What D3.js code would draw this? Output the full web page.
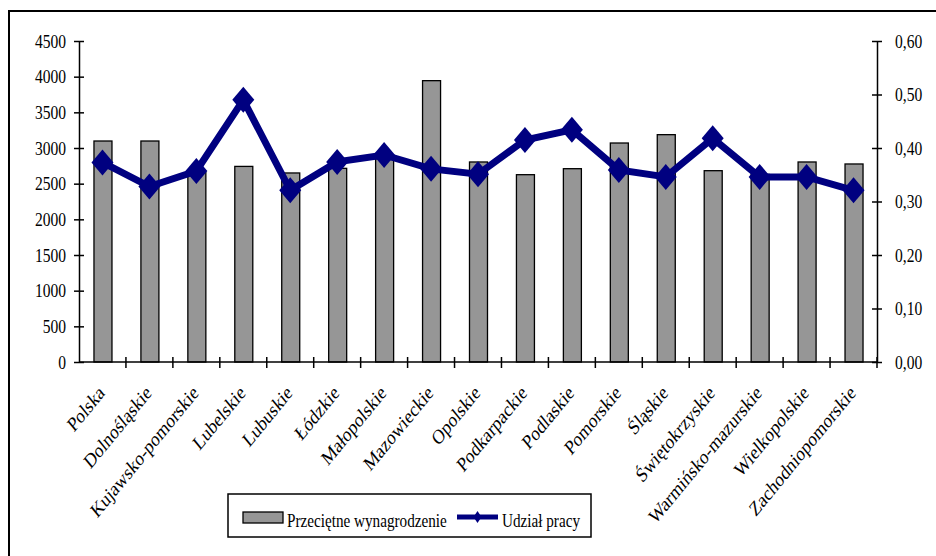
<!DOCTYPE html>
<html>
<head>
<meta charset="utf-8">
<script src="https://cdn.jsdelivr.net/npm/d3@7"></script>
<style>
  body { margin: 0; background: #fff; }
  text { font-family: "Liberation Serif", "Times New Roman", serif; fill: #000; }
</style>
</head>
<body>
<div id="chart"></div>
<script>
var categories = ["Polska", "Dolnośląskie", "Kujawsko-pomorskie", "Lubelskie", "Lubuskie",
    "Łódzkie", "Małopolskie", "Mazowieckie", "Opolskie", "Podkarpackie", "Podlaskie",
    "Pomorskie", "Śląskie", "Świętokrzyskie", "Warmińsko-mazurskie", "Wielkopolskie",
    "Zachodniopomorskie"];
var wages = [3098, 3098, 2660, 2742, 2650, 2715, 2850, 3944, 2804, 2626, 2710,
    3070, 3187, 2682, 2630, 2804, 2776];
var share = [0.373, 0.328, 0.357, 0.490, 0.321, 0.374, 0.387, 0.361, 0.351, 0.415, 0.434,
    0.359, 0.346, 0.418, 0.346, 0.346, 0.321];
var leftTicks = [0, 500, 1000, 1500, 2000, 2500, 3000, 3500, 4000, 4500];
var rightTicks = [0, 0.1, 0.2, 0.3, 0.4, 0.5, 0.6];
var seriesNames = ["Przeciętne wynagrodzenie", "Udział pracy"];

var W = 936, H = 556;
var margin = {top: 41, right: 59, bottom: 194, left: 79},
    width = W - margin.left - margin.right,
    height = H - margin.top - margin.bottom;

// the original is squeezed horizontally, so text is drawn narrow
var sx = 0.82;

var svg = d3.select("#chart").append("svg")
    .attr("width", W)
    .attr("height", H);

// outer frame (cut off on right/bottom like the original)
svg.append("rect")
    .attr("x", 9).attr("y", 11)
    .attr("width", 1000).attr("height", 600)
    .attr("fill", "none").attr("stroke", "#000").attr("stroke-width", 2);

var g = svg.append("g")
    .attr("transform", "translate(" + margin.left + "," + margin.top + ")");

var xc = d3.scaleBand().domain(categories).range([0, width]),
    y = d3.scaleLinear().domain([0, 4500]).range([height, 0]),
    y2 = d3.scaleLinear().domain([0, 0.6]).range([height, 0]);

// bars
g.selectAll(".bar")
    .data(categories)
    .enter().append("rect")
    .attr("class", "bar")
    .attr("x", function (d) { return xc(d) + xc.bandwidth() / 2 - 8.5; })
    .attr("y", function (d, i) { return y(wages[i]); })
    .attr("width", 18)
    .attr("height", function (d, i) { return height - y(wages[i]); })
    .attr("fill", "#969696")
    .attr("stroke", "#000")
    .attr("stroke-width", 1.3);

// left axis
var yAxis = g.append("g")
    .call(d3.axisLeft(y).tickValues(leftTicks).tickSize(5).tickSizeOuter(0).tickFormat(d3.format("d")));
yAxis.selectAll("line").attr("x2", 5).attr("x1", -5).attr("stroke-width", 1.5);
yAxis.select(".domain").attr("stroke-width", 1.5);
yAxis.selectAll("text")
    .attr("x", -13 / sx)
    .attr("transform", "scale(" + sx + ",1)")
    .attr("font-size", "19px").attr("font-family", "Liberation Serif");

// right axis
var y2Axis = g.append("g")
    .attr("transform", "translate(" + width + ",0)")
    .call(d3.axisRight(y2).tickValues(rightTicks).tickSize(5).tickSizeOuter(0)
        .tickFormat(function (d) { return d3.format(".2f")(d).replace(".", ","); }));
y2Axis.selectAll("line").attr("x1", -5).attr("x2", 5).attr("stroke-width", 1.5);
y2Axis.select(".domain").attr("stroke-width", 1.5);
y2Axis.selectAll("text")
    .attr("x", 18 / sx)
    .attr("transform", "scale(" + sx + ",1)")
    .attr("font-size", "19px").attr("font-family", "Liberation Serif");

// x axis, ticks sit between categories
var xAxis = g.append("g")
    .attr("transform", "translate(0," + height + ")");
xAxis.append("line").attr("x1", 0).attr("x2", width).attr("stroke", "#000").attr("stroke-width", 1.5);
xAxis.selectAll(".tick")
    .data(categories)
    .enter().append("line")
    .attr("x1", function (d) { return xc(d) + xc.bandwidth(); })
    .attr("x2", function (d) { return xc(d) + xc.bandwidth(); })
    .attr("y1", -5).attr("y2", 6)
    .attr("stroke", "#000").attr("stroke-width", 1.5);
xAxis.selectAll(".lab")
    .data(categories)
    .enter().append("text")
    .attr("class", "lab")
    .attr("transform", function (d) {
        return "translate(" + (xc(d) + xc.bandwidth() / 2 - 1) + ",27) scale(" + sx + ",1) rotate(-45)";
    })
    .attr("text-anchor", "end")
    .attr("dy", "0.35em")
    .attr("font-size", "20.5px")
    .text(function (d) { return d; });

// line
var line = d3.line()
    .x(function (d, i) { return xc(categories[i]) + xc.bandwidth() / 2; })
    .y(function (d) { return y2(d); });

g.append("path")
    .datum(share)
    .attr("fill", "none")
    .attr("stroke", "#000080")
    .attr("stroke-width", 7)
    .attr("d", line);

var diamond = "M0,-13L11,0L0,13L-11,0Z";
g.selectAll(".mk")
    .data(share)
    .enter().append("path")
    .attr("class", "mk")
    .attr("transform", function (d, i) {
        return "translate(" + (xc(categories[i]) + xc.bandwidth() / 2) + "," + y2(d) + ")";
    })
    .attr("d", diamond)
    .attr("fill", "#000080");

// legend
var lg = svg.append("g").attr("transform", "translate(228,494)");
lg.append("rect").attr("width", 363).attr("height", 43)
    .attr("fill", "#fff").attr("stroke", "#000").attr("stroke-width", 1.5);
lg.append("rect").attr("x", 15).attr("y", 18).attr("width", 40).attr("height", 11)
    .attr("fill", "#969696").attr("stroke", "#000").attr("stroke-width", 1.3);
lg.append("text")
    .attr("transform", "translate(59,33) scale(0.8,1)")
    .attr("font-size", "19px").text(seriesNames[0]);
lg.append("line").attr("x1", 229).attr("x2", 270).attr("y1", 23).attr("y2", 23)
    .attr("stroke", "#000080").attr("stroke-width", 5);
lg.append("path").attr("transform", "translate(249.5,23)")
    .attr("d", "M0,-6L4,0L0,6L-4,0Z").attr("fill", "#000080");
lg.append("text")
    .attr("transform", "translate(274,33) scale(0.8,1)")
    .attr("font-size", "19px").text(seriesNames[1]);
</script>
</body>
</html>
